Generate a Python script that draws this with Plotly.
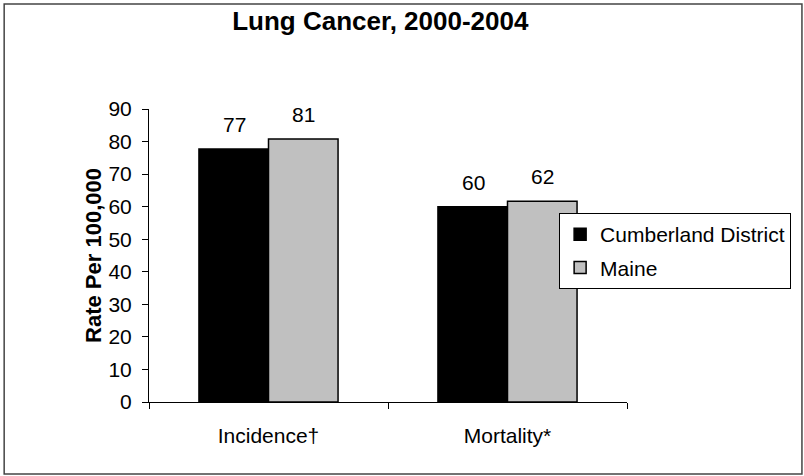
import plotly.graph_objects as go

categories = ['Incidence\u2020', 'Mortality*']
cumberland = [77.7, 60.0]
maine = [80.8, 61.7]
cumberland_labels = ['77', '60']
maine_labels = ['81', '62']

FONT = 'Liberation Sans, Arial, sans-serif'

fig = go.Figure()
fig.add_trace(go.Bar(name='Cumberland District', x=categories, y=cumberland,
                     legendgroup='a',
                     marker=dict(color='black', line=dict(color='black', width=1.5))))
fig.add_trace(go.Bar(name='Maine', x=categories, y=maine,
                     legendgroup='b',
                     marker=dict(color='#c0c0c0', line=dict(color='black', width=1.5))))

# value labels above each bar
annotations = []
for vals, labels, shift in [(cumberland, cumberland_labels, -34.5), (maine, maine_labels, 34.5)]:
    for cat, v, lab in zip(categories, vals, labels):
        annotations.append(dict(x=cat, y=v, text=lab, showarrow=False,
                                xshift=shift, yshift=11, yanchor='bottom',
                                font=dict(size=21, color='black', family=FONT)))

fig.update_layout(
    width=804, height=476,
    barmode='group', bargap=0.418, bargroupgap=0,
    plot_bgcolor='white', paper_bgcolor='white',
    font=dict(family=FONT, color='black', size=21),
    margin=dict(l=149, r=177, t=109, b=74),
    title=dict(text='<b>Lung Cancer, 2000-2004</b>', font=dict(size=26),
               x=0.473, xanchor='center', y=0.957, yanchor='middle'),
    showlegend=True,
    legend=dict(x=0.858, y=0.645, xanchor='left', yanchor='top',
                bgcolor='white', bordercolor='black', borderwidth=1,
                traceorder='grouped', tracegroupgap=3, itemwidth=30,
                font=dict(size=21)),
    annotations=annotations,
    shapes=[dict(type='rect', xref='paper', yref='paper',
                 x0=-0.303, x1=1.366, y0=-0.246, y1=1.358,
                 line=dict(color='#444444', width=1.5))],
)

fig.update_yaxes(range=[0, 90], dtick=10, showline=True, linecolor='black', linewidth=1,
                 ticks='outside', ticklen=6, tickcolor='black', showgrid=False,
                 zeroline=False, ticklabelstandoff=6,
                 title=dict(text='<b>Rate Per 100,000</b>', font=dict(size=22), standoff=0))
fig.update_xaxes(showline=True, linecolor='black', linewidth=1, ticks='outside',
                 tickson='boundaries', ticklen=6, tickcolor='black', showgrid=False,
                 ticklabelstandoff=15)

fig.write_html('out.html', config={'displayModeBar': False},
               post_script="document.body.style.margin='0';")
